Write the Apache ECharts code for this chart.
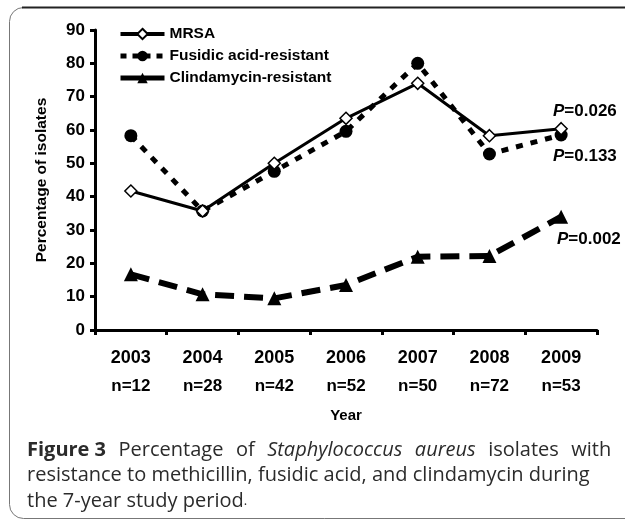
<!DOCTYPE html>
<html><head><meta charset="utf-8">
<script src="https://cdn.jsdelivr.net/npm/echarts@6/dist/echarts.min.js"></script>
<style>html,body{margin:0;padding:0;background:#fff}#c{width:625px;height:522px}</style>
</head><body><div id="c"></div>
<script>
const years = ['2003','2004','2005','2006','2007','2008','2009'];
const nCounts = ['n=12','n=28','n=42','n=52','n=50','n=72','n=53'];
const mrsa = [41.7, 35.7, 50.0, 63.5, 74.0, 58.3, 60.4];
const fusidic = [58.3, 35.7, 47.6, 59.6, 80.0, 52.8, 58.5];
const clinda = [16.7, 10.7, 9.5, 13.5, 22.0, 22.2, 34.0];
const yTicks = {min: 0, max: 90, interval: 10};
const pValues = ['0.026', '0.133', '0.002'];

const F = 'Liberation Sans, Arial, sans-serif';
const CF = 'Open Sans';
const pRich = {
  i: {fontFamily: F, fontWeight: 'bold', fontStyle: 'italic', fontSize: 17, fill: '#000'},
  t: {fontFamily: F, fontWeight: 'bold', fontSize: 17, fill: '#000'}
};
const chart = echarts.init(document.getElementById('c'));
chart.setOption({
  animation: false,
  backgroundColor: '#fff',
  grid: {left: 95, right: 28, top: 30, bottom: 192},
  legend: {
    left: 113, top: 21, orient: 'vertical', itemGap: 6, itemWidth: 44, itemHeight: 13,
    textStyle: {fontFamily: F, fontWeight: 'bold', fontSize: 15.5, color: '#000'},
    data: [
      {name: 'MRSA', lineStyle: {width: 4}},
      {name: 'Fusidic acid-resistant', lineStyle: {width: 5, type: [6, 6]}},
      {name: 'Clindamycin-resistant', lineStyle: {width: 5, type: 'solid'}}
    ]
  },
  xAxis: {
    type: 'category', data: years,
    name: 'Year', nameLocation: 'middle', nameGap: 78,
    nameTextStyle: {fontFamily: F, fontWeight: 'bold', fontSize: 15, color: '#000'},
    axisLine: {lineStyle: {color: '#000', width: 3}},
    axisTick: {show: true, length: 5, lineStyle: {color: '#000', width: 3}},
    axisLabel: {
      margin: 14,
      formatter: (v, i) => '{y|' + v + '}\n{n|' + nCounts[i] + '}',
      rich: {
        y: {fontFamily: F, fontWeight: 'bold', fontSize: 18, color: '#000', lineHeight: 28},
        n: {fontFamily: F, fontWeight: 'bold', fontSize: 17, color: '#000', lineHeight: 28}
      }
    }
  },
  yAxis: {
    type: 'value', min: yTicks.min, max: yTicks.max, interval: yTicks.interval,
    name: 'Percentage of isolates', nameLocation: 'middle', nameGap: 45,
    nameTextStyle: {fontFamily: F, fontWeight: 'bold', fontSize: 15.5, color: '#000'},
    axisLine: {show: true, lineStyle: {color: '#000', width: 3}},
    axisTick: {show: true, length: 5, lineStyle: {color: '#000', width: 3}},
    splitLine: {show: false},
    axisLabel: {fontFamily: F, fontWeight: 'bold', fontSize: 17, color: '#000', margin: 10}
  },
  series: [
    {
      name: 'MRSA', type: 'line', data: mrsa, z: 4,
      symbol: 'diamond', symbolSize: 12,
      lineStyle: {color: '#000', width: 3, type: 'solid'},
      itemStyle: {color: '#fff', borderColor: '#000', borderWidth: 1.5}
    },
    {
      name: 'Fusidic acid-resistant', type: 'line', data: fusidic, z: 3,
      symbol: 'circle', symbolSize: 13,
      lineStyle: {color: '#000', width: 5, type: [7, 8]},
      itemStyle: {color: '#000', borderColor: '#000', borderWidth: 0}
    },
    {
      name: 'Clindamycin-resistant', type: 'line', data: clinda, z: 3,
      symbol: 'triangle', symbolSize: 14,
      lineStyle: {color: '#000', width: 6, type: [19, 10]},
      itemStyle: {color: '#000', borderColor: '#000', borderWidth: 0}
    }
  ],
  graphic: [
    {type: 'rect', silent: true, z: -1,
     shape: {x: 9.5, y: 7.5, width: 700, height: 511, r: 14},
     style: {fill: 'none', stroke: '#777', lineWidth: 1}},
    {type: 'line', silent: true, z: -1,
     shape: {x1: 22, y1: 7.5, x2: 625, y2: 7.5},
     style: {stroke: '#222', lineWidth: 2}},
    {type: 'text', left: 553, top: 103, style: {text: '{i|P}{t|=' + pValues[0] + '}', rich: pRich}},
    {type: 'text', left: 553, top: 148, style: {text: '{i|P}{t|=' + pValues[1] + '}', rich: pRich}},
    {type: 'text', left: 557, top: 231, style: {text: '{i|P}{t|=' + pValues[2] + '}', rich: pRich}},
    {type: 'text', left: 27, top: 440, style: {
      text: '{b|Figure 3}{w| }{r|Percentage}{w| }{r|of}{w| }{i|Staphylococcus}{w| }{i|aureus}{w| }{r|isolates}{w| }{r|with}\n{r|resistance to methicillin, fusidic acid, and clindamycin during}\n{r|the 7-year study period}{s|.}',
      rich: {
        b: {fontFamily: CF, fontWeight: 'bold', fontSize: 20, fill: '#2b2b2b', lineHeight: 25.5},
        r: {fontFamily: CF, fontSize: 20, fill: '#2b2b2b', lineHeight: 25.5},
        i: {fontFamily: CF, fontStyle: 'italic', fontSize: 20, fill: '#2b2b2b', lineHeight: 25.5},
        w: {fontFamily: CF, fontSize: 20, width: 12.5, lineHeight: 25.5},
        s: {fontFamily: CF, fontSize: 13, fill: '#2b2b2b', lineHeight: 25.5}
      }}}
  ]
});
</script></body></html>
